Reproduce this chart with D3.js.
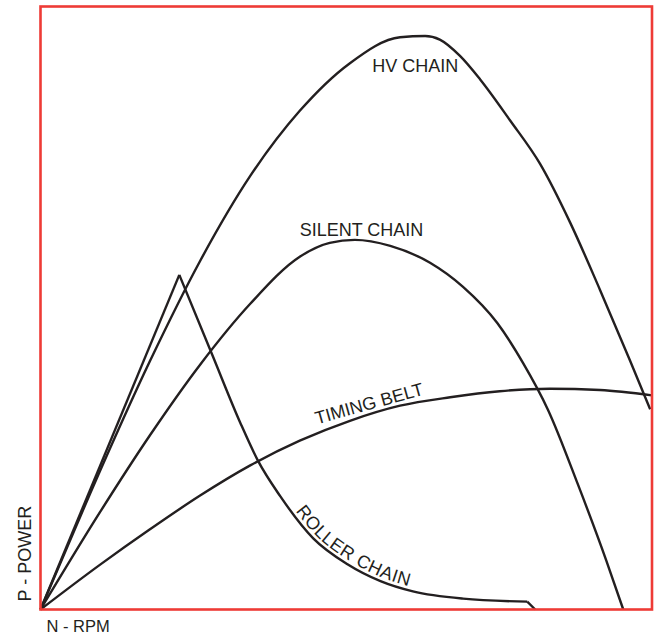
<!DOCTYPE html>
<html>

<head>
    <meta charset="utf-8">
    <title>Power vs RPM</title>
    <script type="text/javascript" src="https://cdn.jsdelivr.net/npm/d3@7/dist/d3.min.js"></script>
    <style type="text/css">
        body {
            margin: 0;
            background: #fff;
        }

        path.curve {
            fill: none;
            stroke: #231f20;
            stroke-width: 2.4px;
            stroke-linejoin: round;
        }

        rect.frame {
            fill: none;
            stroke: #ee3b36;
            stroke-width: 2.6px;
        }

        text {
            font-family: "Liberation Sans", Arial, Helvetica, sans-serif;
            fill: #231f20;
        }
    </style>
</head>

<body>

    <script type="text/javascript">
        // [rpm, power] in relative units (0-100)
        var hvChain = [[0, 0], [8.1, 19.2], [17.9, 41.2], [26.1, 57.8], [34.3, 71.9], [42.4, 82.7],
            [50.6, 90.6], [58.8, 94.9], [62.9, 95.1], [65.3, 94.5], [68.6, 91.8], [71.9, 87.9],
            [76.8, 81.1], [81.7, 73.9], [86.6, 64.2], [91.5, 53.0], [96.4, 41.3], [99.7, 33.2]];

        var silentChain = [[0, 0], [9.7, 16.1], [17.9, 28.9], [26.1, 40.6], [34.3, 50.7], [42.4, 58.5],
            [47.3, 60.8], [51.4, 61.3], [57.2, 60.3], [63.7, 57.5], [69.1, 53.5], [74.7, 47.5],
            [78.9, 40.9], [83.0, 33.1], [87.9, 20.7], [92.5, 8.2], [95.3, 0]];

        var timingBelt = [[0, 0], [9.7, 7.4], [17.9, 13.3], [26.1, 18.9], [34.3, 23.9], [42.4, 28.0],
            [50.6, 31.3], [58.8, 33.8], [67.0, 35.2], [75.1, 36.2], [83.3, 36.6], [91.5, 36.4],
            [100, 35.5]];

        var rollerChain = [[0, 0], [22.7, 55.5], [28.1, 42.2], [32.7, 30.9], [35.6, 24.6], [39.2, 18.8],
            [44.6, 11.8], [50.2, 7.5], [55.6, 4.7], [60.9, 3.0], [69.1, 1.8], [79.6, 1.3], [80.9, 0]];

        var seriesNames = ["HV CHAIN", "SILENT CHAIN", "TIMING BELT", "ROLLER CHAIN"];
        var axisTitles = ["N - RPM", "P - POWER"];

        var width = 658,
            height = 635,
            margins = {top: 6.5, left: 40.5, right: 6, bottom: 25.5};

        var x = d3.scaleLinear().domain([0, 100])
            .range([margins.left, width - margins.right]);
        var y = d3.scaleLinear().domain([0, 100])
            .range([height - margins.bottom, margins.top]);

        var svg = d3.select("body").append("svg")
            .attr("width", width)
            .attr("height", height);

        var smooth = d3.line()
            .x(function (d) { return x(d[0]); })
            .y(function (d) { return y(d[1]); })
            .curve(d3.curveMonotoneX);

        var straight = d3.line()
            .x(function (d) { return x(d[0]); })
            .y(function (d) { return y(d[1]); });

        var g = svg.append("g").attr("class", "curves");

        [hvChain, silentChain, timingBelt].forEach(function (data) {
            g.append("path").attr("class", "curve").attr("d", smooth(data));
        });

        // roller chain: straight rise, smooth fall, sharp drop at the end
        g.append("path").attr("class", "curve").attr("d", straight(rollerChain.slice(0, 2)));
        var rollerFall = g.append("path").attr("class", "curve")
            .attr("id", "roller-fall")
            .attr("d", smooth(rollerChain.slice(1, -1)));
        g.append("path").attr("class", "curve").attr("d", straight(rollerChain.slice(-2)));

        // frame
        svg.append("rect").attr("class", "frame")
            .attr("x", x(0))
            .attr("y", y(100))
            .attr("width", x(100) - x(0))
            .attr("height", y(0) - y(100));

        // curve labels
        svg.append("text")
            .attr("x", x(61.3)).attr("y", y(89.2))
            .attr("text-anchor", "middle")
            .style("font-size", "18px")
            .text(seriesNames[0]);

        svg.append("text")
            .attr("x", x(52.5)).attr("y", y(61.9))
            .attr("text-anchor", "middle")
            .style("font-size", "18px")
            .text(seriesNames[1]);

        svg.append("text")
            .attr("transform", "translate(" + x(45.2) + "," + y(30.7) + ") rotate(-15.5)")
            .style("font-size", "18px")
            .text(seriesNames[2]);

        // find where the roller label starts along its curve
        var node = rollerFall.node(),
            len = node.getTotalLength(),
            start = 0;
        for (var s = 0; s < len; s += 1) {
            if (node.getPointAtLength(s).x >= x(41.2)) { start = s; break; }
        }

        svg.append("text")
            .attr("dy", -4)
            .style("font-size", "18px")
            .style("letter-spacing", "0.7px")
            .append("textPath")
            .attr("href", "#roller-fall")
            .attr("startOffset", start)
            .text(seriesNames[3]);

        // axis titles
        svg.append("text")
            .attr("x", x(0) + 6).attr("y", height - 3)
            .style("font-size", "16.5px")
            .text(axisTitles[0]);

        svg.append("text")
            .attr("transform", "translate(31," + (y(0) - 8) + ") rotate(-90)")
            .style("font-size", "18px")
            .text(axisTitles[1]);
    </script>

</body>

</html>
